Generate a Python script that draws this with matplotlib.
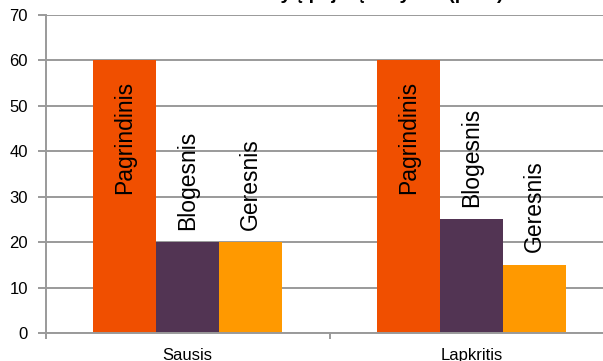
import numpy as np
import matplotlib
matplotlib.use('Agg')
import matplotlib.pyplot as plt

# data
categories = ["Sausis", "Lapkritis"]
series_names = ["Pagrindinis", "Blogesnis", "Geresnis"]
pagrindinis = [60, 60]
blogesnis = [20, 25]
geresnis = [20, 15]
colors = ["#F04F00", "#523453", "#FF9900"]
title = "Pokytį pajutę dalyviai (proc)"

plt.rcParams['font.family'] = ['Liberation Sans', 'DejaVu Sans']

fig = plt.figure(figsize=(6.03, 3.61), dpi=100)
ax = fig.add_axes([46 / 603, 28 / 361, 567 / 603, 318 / 361])

x = np.arange(len(categories))
width = 2 / 9
grid_c = "#9a9a9a"

for i, (name, vals) in enumerate(zip(series_names, [pagrindinis, blogesnis, geresnis])):
    pos = x + (i - 1) * width
    ax.bar(pos, vals, width, color=colors[i], zorder=2)
    for px, v in zip(pos, vals):
        if v >= 50:
            # label would not fit above, put it inside
            ax.annotate(name, (px, v), xytext=(0, -15), textcoords='offset points',
                        rotation=90, ha='center', va='top', fontsize=16.5, zorder=3)
        else:
            ax.annotate(name, (px, v), xytext=(0, 9), textcoords='offset points',
                        rotation=90, ha='center', va='bottom', fontsize=16.5, zorder=3)

ax.set_ylim(0, 70)
ax.set_xlim(-0.5, len(categories) - 0.5)
ax.set_yticks(range(0, 71, 10))
ax.yaxis.grid(True, color=grid_c, linewidth=1.4, zorder=0)
ax.set_axisbelow(True)

ax.set_xticks(x)
ax.set_xticklabels(categories, fontsize=12)
ax.set_xticks(np.arange(-0.5, len(categories), 1.0), minor=True)
ax.tick_params(axis='x', which='major', length=0, pad=11)
ax.tick_params(axis='x', which='minor', length=4, width=1.4, color=grid_c)
ax.tick_params(axis='y', length=6, width=1.4, color=grid_c, labelsize=12, pad=7)

for s in ['top', 'right']:
    ax.spines[s].set_visible(False)
for s in ['left', 'bottom']:
    ax.spines[s].set_color(grid_c)
    ax.spines[s].set_linewidth(1.4)

fig.text(0.62, 1.0 + 1 / 361, title, ha='center', va='baseline',
         fontsize=14, fontweight='bold')

fig.savefig('out.png', dpi=100)
